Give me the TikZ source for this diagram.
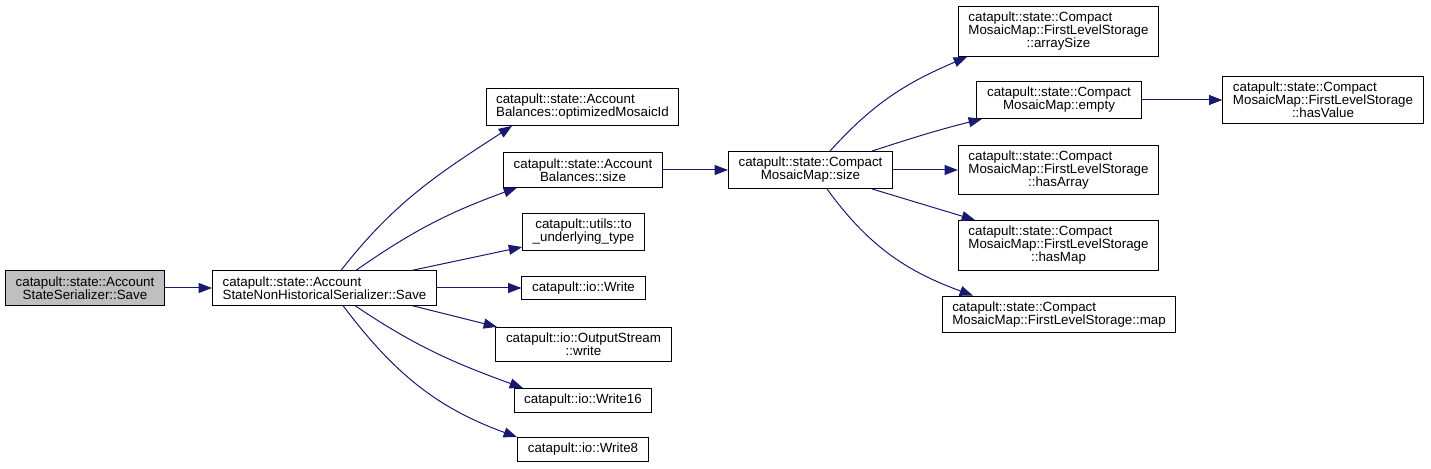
\documentclass[tikz,border=0pt]{standalone}
\usepackage{fontspec}
\setmainfont{Liberation Sans}
\definecolor{edgeblue}{RGB}{25, 25, 112}
\usetikzlibrary{arrows.meta, calc}

\begin{document}
\begin{tikzpicture}[
    x=0.75pt, y=0.75pt,
    every node/.style={font=\fontsize{10}{9.75}\selectfont},
    fn/.style={rectangle, draw=black, fill=white, line width=0.75pt, inner xsep=7.6pt, inner ysep=4.3pt, align=center},
    fnleft/.style={fn, align=left},
    fncur/.style={fn, fill=black!25},
    call/.style={-{Triangle[length=10pt, width=7.5pt]}, draw=edgeblue, line width=0.75pt}
]
    \useasboundingbox (0,0) rectangle (1431,468);

    % caller chain
    \node[fncur]  (ser) at (85,180)   {catapult::state::Account\\StateSerializer::Save};
    \node[fnleft] (nhs) at (324.5,180) {catapult::state::Account\\StateNonHistoricalSerializer::Save};

    % callees of the non-historical serializer
    \node[fnleft] (opt)  at (582.5,361) {catapult::state::Account\\Balances::optimizedMosaicId};
    \node[fn]     (bsz)  at (583,298)   {catapult::state::Account\\Balances::size};
    \node[fn]     (und)  at (583.5,236) {catapult::utils::to\\\_underlying\_type};
    \node[fn]     (wr)   at (583.5,180) {catapult::io::Write};
    \node[fn]     (osw)  at (583.5,123.5) {catapult::io::OutputStream\\::write};
    \node[fn]     (wr16) at (583,67.5)  {catapult::io::Write16};
    \node[fn]     (wr8)  at (583,18.5)  {catapult::io::Write8};

    % compact mosaic map
    \node[fn]     (msz)  at (810.5,298) {catapult::state::Compact\\MosaicMap::size};
    \node[fnleft] (asz)  at (1058.5,436.5) {catapult::state::Compact\\MosaicMap::FirstLevelStorage\\\hfil::arraySize};
    \node[fn]     (emp)  at (1059,368)  {catapult::state::Compact\\MosaicMap::empty};
    \node[fnleft] (harr) at (1058.5,298) {catapult::state::Compact\\MosaicMap::FirstLevelStorage\\\hfil::hasArray};
    \node[fnleft] (hmap) at (1058.5,222.5) {catapult::state::Compact\\MosaicMap::FirstLevelStorage\\\hfil::hasMap};
    \node[fnleft] (map)  at (1059,153.5) {catapult::state::Compact\\MosaicMap::FirstLevelStorage::map};
    \node[fnleft] (hval) at (1323,368)  {catapult::state::Compact\\MosaicMap::FirstLevelStorage\\\hfil::hasValue};

    \draw[call] (ser) -- (nhs);
    \draw[call] ($(nhs.north)+(16.5,0)$) to[out=52, in=213] ($(opt.south)+(-70.5,0)$);
    \draw[call] ($(nhs.north)+(31.5,0)$) to[out=35, in=200] ($(bsz.south)+(-66,0)$);
    \draw[call] ($(nhs.north)+(87.5,0)$) -- ($(und.west)+(0,-15)$);
    \draw[call] (nhs) -- (wr);
    \draw[call] ($(nhs.south)+(87.5,0)$) -- ($(osw.north)+(-86.5,0)$);
    \draw[call] ($(nhs.south)+(30.5,0)$) to[out=-34, in=160] ($(wr16.north)+(-60,0)$);
    \draw[call] ($(nhs.south)+(18.5,0)$) to[out=-53, in=160] ($(wr8.north)+(-66,0)$);

    \draw[call] (bsz) -- (msz);
    \draw[call] ($(msz.north)+(19.5,0)$) to[out=48, in=203] ($(asz.south)+(-91.5,0)$);
    \draw[call] ($(msz.north)+(61.5,0)$) to[out=18, in=194] ($(emp.south)+(-77,0)$);
    \draw[call] (msz) -- (harr);
    \draw[call] ($(msz.south)+(61.5,0)$) -- ($(hmap.north)+(-83.5,0)$);
    \draw[call] ($(msz.south)+(16.5,0)$) to[out=-54, in=160] ($(map.north)+(-86,0)$);
    \draw[call] (emp) -- (hval);
\end{tikzpicture}
\end{document}
